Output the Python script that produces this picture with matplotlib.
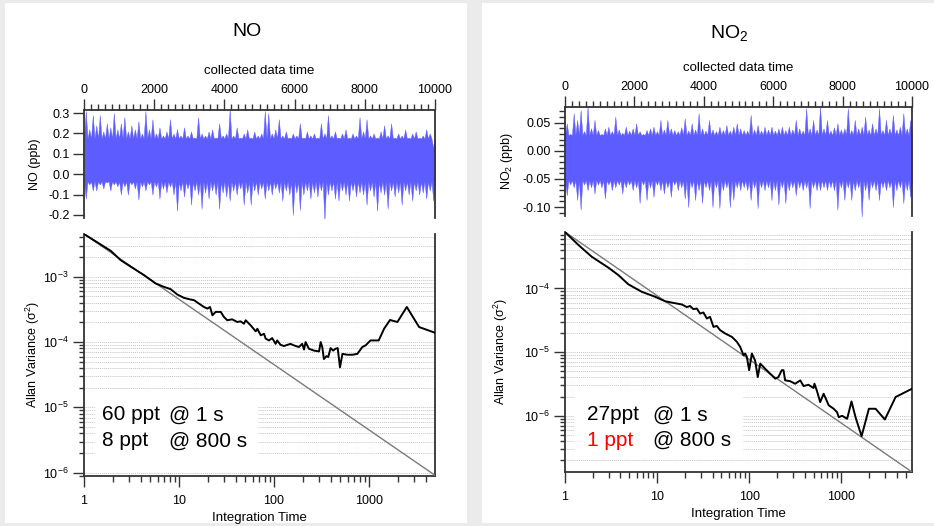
import numpy as np
import matplotlib
matplotlib.use('Agg')
import matplotlib.pyplot as plt
from matplotlib.patches import Rectangle
from matplotlib.ticker import MultipleLocator, LogLocator, NullFormatter, FormatStrFormatter

plt.rcParams['font.family'] = ['Liberation Sans', 'DejaVu Sans']
plt.rcParams['axes.unicode_minus'] = False
plt.rcParams['mathtext.fontset'] = 'custom'
plt.rcParams['mathtext.rm'] = 'Liberation Sans'
plt.rcParams['mathtext.it'] = 'Liberation Sans:italic'
plt.rcParams['mathtext.default'] = 'regular'

# ---- time series envelopes (100 s bins) ----
bin_t = np.arange(50, 10000, 100)
no_hi = [0.31, 0.22, 0.29, 0.24, 0.29, 0.21, 0.25, 0.23, 0.30, 0.22,
         0.25, 0.28, 0.21, 0.24, 0.22, 0.26, 0.20, 0.31, 0.22, 0.27,
         0.20, 0.23, 0.19, 0.21, 0.27, 0.20, 0.22, 0.19, 0.23, 0.19,
         0.21, 0.18, 0.28, 0.20, 0.19, 0.21, 0.22, 0.18, 0.25, 0.19,
         0.20, 0.32, 0.19, 0.23, 0.18, 0.20, 0.22, 0.18, 0.21, 0.19,
         0.20, 0.31, 0.30, 0.20, 0.22, 0.27, 0.19, 0.21, 0.18, 0.20,
         0.19, 0.25, 0.18, 0.21, 0.19, 0.20, 0.18, 0.25, 0.20, 0.29,
         0.19, 0.21, 0.18, 0.20, 0.22, 0.18, 0.20, 0.19, 0.28, 0.21,
         0.27, 0.19, 0.20, 0.18, 0.21, 0.24, 0.19, 0.25, 0.18, 0.20,
         0.19, 0.22, 0.18, 0.20, 0.21, 0.18, 0.19, 0.22, 0.20, 0.13]
no_lo = [-0.12, -0.05, -0.08, -0.08, -0.05, -0.07, -0.04, -0.08, -0.05, -0.06,
         -0.10, -0.06, -0.10, -0.05, -0.07, -0.125, -0.06, -0.08, -0.05, -0.10,
         -0.06, -0.12, -0.07, -0.09, -0.06, -0.10, -0.18, -0.08, -0.11, -0.07,
         -0.15, -0.08, -0.10, -0.17, -0.09, -0.12, -0.08, -0.10, -0.17, -0.09,
         -0.11, -0.13, -0.08, -0.10, -0.07, -0.15, -0.09, -0.15, -0.08, -0.10,
         -0.07, -0.12, -0.08, -0.10, -0.07, -0.09, -0.13, -0.08, -0.10, -0.20,
         -0.09, -0.175, -0.10, -0.08, -0.12, -0.09, -0.11, -0.08, -0.23, -0.10,
         -0.08, -0.12, -0.13, -0.08, -0.10, -0.13, -0.08, -0.11, -0.09, -0.10,
         -0.15, -0.08, -0.11, -0.18, -0.09, -0.10, -0.17, -0.08, -0.11, -0.09,
         -0.15, -0.08, -0.10, -0.13, -0.08, -0.10, -0.09, -0.12, -0.08, -0.13]
no2_hi = [0.049, 0.030, 0.067, 0.055, 0.073, 0.035, 0.079, 0.040, 0.055, 0.037,
          0.030, 0.040, 0.043, 0.035, 0.061, 0.038, 0.032, 0.043, 0.036, 0.040,
          0.049, 0.035, 0.030, 0.037, 0.040, 0.043, 0.035, 0.055, 0.038, 0.055,
          0.040, 0.037, 0.035, 0.042, 0.058, 0.036, 0.049, 0.038, 0.067, 0.040,
          0.036, 0.055, 0.038, 0.035, 0.043, 0.037, 0.046, 0.036, 0.043, 0.049,
          0.040, 0.037, 0.036, 0.064, 0.038, 0.046, 0.036, 0.043, 0.038, 0.043,
          0.036, 0.040, 0.043, 0.037, 0.043, 0.038, 0.055, 0.040, 0.036, 0.076,
          0.040, 0.055, 0.038, 0.079, 0.040, 0.055, 0.036, 0.042, 0.049, 0.038,
          0.040, 0.076, 0.037, 0.055, 0.040, 0.043, 0.061, 0.038, 0.049, 0.040,
          0.076, 0.037, 0.055, 0.040, 0.064, 0.038, 0.043, 0.067, 0.040, 0.055]
no2_lo = [-0.079, -0.060, -0.065, -0.0875, -0.105, -0.060, -0.070, -0.065, -0.076, -0.060,
          -0.065, -0.085, -0.060, -0.070, -0.065, -0.060, -0.076, -0.065, -0.060, -0.070,
          -0.065, -0.093, -0.060, -0.0875, -0.065, -0.082, -0.060, -0.070, -0.076, -0.065,
          -0.082, -0.060, -0.070, -0.065, -0.085, -0.100, -0.065, -0.0875, -0.070, -0.093,
          -0.065, -0.070, -0.100, -0.065, -0.102, -0.070, -0.065, -0.100, -0.0875, -0.065,
          -0.070, -0.065, -0.070, -0.0875, -0.065, -0.102, -0.065, -0.070, -0.065, -0.0875,
          -0.070, -0.096, -0.065, -0.093, -0.070, -0.065, -0.079, -0.065, -0.070, -0.065,
          -0.102, -0.065, -0.070, -0.070, -0.065, -0.070, -0.065, -0.070, -0.105, -0.065,
          -0.0875, -0.065, -0.0875, -0.070, -0.065, -0.117, -0.070, -0.0875, -0.065, -0.070,
          -0.0875, -0.065, -0.070, -0.065, -0.100, -0.070, -0.065, -0.093, -0.070, -0.082]
# edges of the dense solid core of each trace (lo, hi)
no_core = (-0.035, 0.175)
no2_core = (-0.052, 0.028)

# ---- Allan variance ----
no_tau = [1, 1.91, 2.43, 3.10, 4.28, 5.68, 6.96, 8.17, 9.6, 11.3, 13.3, 14.4, 16.2, 18.3, 19.9,
          21.2, 22.5, 24.3, 27.5, 29.7, 32.2, 36.3, 41.1, 44.5, 48.3, 50.3, 56.9, 64.2, 66.8, 72.5,
          78.5, 81.7, 88.5, 95.8, 104, 108, 117, 127, 149, 162, 183, 198, 207, 215, 233,
          264, 298, 310, 322, 335, 357, 372, 394, 419, 443, 468, 495, 525, 591, 668,
          754, 850, 921, 1036, 1265, 1441, 1664, 1990, 2499, 3366, 4950]
no_var = [4.52e-3, 2.5e-3, 1.8e-3, 1.43e-3, 1.06e-3, 7.9e-4, 7.0e-4, 6.46e-4, 5.35e-4, 4.75e-4,
          4.48e-4, 4.38e-4, 3.89e-4, 3.45e-4, 3.26e-4, 3.45e-4, 2.57e-4, 2.9e-4, 2.9e-4, 2.43e-4,
          2.16e-4, 2.23e-4, 2.03e-4, 2.08e-4, 1.91e-4, 2.16e-4, 1.80e-4, 1.46e-4, 1.60e-4, 1.27e-4,
          1.34e-4, 1.13e-4, 1.06e-4, 1.15e-4, 9.4e-5, 1.06e-4, 9.1e-5, 8.7e-5, 9.4e-5, 8.9e-5,
          8.4e-5, 9.4e-5, 7.7e-5, 1.0e-4, 7.9e-5, 7.4e-5, 7.2e-5, 1.0e-4, 8.4e-5, 5.5e-5,
          6.1e-5, 5.9e-5, 8.1e-5, 7.4e-5, 7.9e-5, 8.1e-5, 4.1e-5, 6.6e-5, 6.4e-5, 6.4e-5,
          6.6e-5, 8.4e-5, 8.9e-5, 1.06e-4, 1.06e-4, 1.6e-4, 2.18e-4, 2.03e-4, 3.45e-4, 1.7e-4, 1.39e-4]
no2_tau = [1, 1.40, 1.95, 2.96, 3.80, 4.88, 6.82, 9.53, 12.2, 14.4, 18.6, 21.0, 22.8, 24.8, 27.0,
           29.3, 31.9, 34.7, 37.6, 41.0, 44.5, 48.4, 55.0, 65.1, 73.6, 80.1, 86.9, 90.6, 94.4, 100,
           107, 116, 124, 132, 149, 169, 192, 208, 226, 236, 246, 278, 316, 359, 390,
           441, 500, 512, 543, 591, 644, 732, 828, 901, 940, 1022, 1159, 1293, 1430, 1664,
           1997, 2360, 2979, 3892, 5870]
no2_var = [7.7e-4, 4.81e-4, 3.15e-4, 2.12e-4, 1.62e-4, 1.16e-4, 8.86e-5, 7.4e-5, 6.3e-5, 6.0e-5,
           5.6e-5, 5.1e-5, 5.3e-5, 4.73e-5, 4.84e-5, 4.04e-5, 4.19e-5, 3.37e-5, 3.58e-5, 2.49e-5,
           2.58e-5, 2.21e-5, 1.96e-5, 1.73e-5, 1.45e-5, 1.2e-5, 8.9e-6, 9.5e-6, 8.4e-6, 5.2e-6,
           9.5e-6, 7.4e-6, 4.06e-6, 6.6e-6, 5.5e-6, 4.58e-6, 3.83e-6, 4.06e-6, 5.2e-6, 5.2e-6,
           3.6e-6, 3.5e-6, 3.19e-6, 3.6e-6, 2.93e-6, 3.07e-6, 2.73e-6, 3.19e-6, 2.5e-6, 1.64e-6,
           2.22e-6, 1.46e-6, 1.29e-6, 1.14e-6, 9.5e-7, 1.0e-6, 8.97e-7, 1.68e-6, 9.5e-7, 4.78e-7,
           1.29e-6, 1.29e-6, 8.75e-7, 1.97e-6, 2.66e-6]
# white-noise reference lines (slope -1)
no_ref_tau, no_ref_var = [1, 4950], [4.52e-3, 9.13e-7]
no2_ref_tau, no2_ref_var = [1, 5870], [7.7e-4, 1.31e-7]

W, H = 934, 526
BLUE = '#5c5cff'
SPINE = '#333333'


def box(x0, y0, x1, y1):
    return [x0 / W, 1 - y1 / H, (x1 - x0) / W, (y1 - y0) / H]


def spikes(hi, lo, core):
    # each bin becomes a narrow spike rising out of the solid core
    n = len(hi)
    x = np.empty(2 * n + 1)
    top = np.empty(2 * n + 1)
    bot = np.empty(2 * n + 1)
    x[0::2] = np.arange(0, 10001, 100)
    x[1::2] = bin_t
    top[0::2] = core[1]
    bot[0::2] = core[0]
    top[1::2] = hi
    bot[1::2] = lo
    return x, bot, top


def style_spines(ax, hide):
    for s in ax.spines.values():
        s.set_color(SPINE)
        s.set_linewidth(1.3)
    ax.spines[hide].set_visible(False)


def top_panel(ax, hi, lo, core, ylim, yticks, fmt, ylabel, yminor=None):
    x, bot, top = spikes(hi, lo, core)
    ax.fill_between(x, bot, top, color=BLUE, lw=0.3, edgecolor=BLUE)
    ax.set_xlim(0, 10000)
    ax.set_ylim(*ylim)
    ax.xaxis.tick_top()
    ax.xaxis.set_label_position('top')
    ax.set_xticks(range(0, 10001, 2000))
    ax.xaxis.set_minor_locator(MultipleLocator(200))
    ax.set_yticks(yticks)
    ax.yaxis.set_major_formatter(FormatStrFormatter(fmt))
    if yminor:
        ax.yaxis.set_minor_locator(MultipleLocator(yminor))
    ax.tick_params(which='both', direction='out', color=SPINE, width=1, labelsize=9, pad=2)
    ax.tick_params(which='major', length=8)
    ax.tick_params(which='minor', length=4.5)
    ax.tick_params(axis='y', right=False, which='both')
    ax.set_xlabel('collected data time', fontsize=9.5, labelpad=7)
    ax.set_ylabel(ylabel, fontsize=9)
    style_spines(ax, 'bottom')


def allan_panel(ax, tau, var, rtau, rvar, xmax, ylim):
    ax.set_xscale('log')
    ax.set_yscale('log')
    ax.plot(rtau, rvar, color='#7a7a7a', lw=1.0, zorder=3)
    ax.plot(tau, var, color='black', lw=1.4, zorder=4)
    ax.set_xlim(1, xmax)
    ax.set_ylim(*ylim)
    ax.set_xticks([1, 10, 100, 1000])
    ax.set_xticklabels(['1', '10', '100', '1000'])
    ax.xaxis.set_minor_locator(LogLocator(base=10, subs=np.arange(2, 10)))
    ax.xaxis.set_minor_formatter(NullFormatter())
    ax.yaxis.set_major_locator(LogLocator(base=10))
    ax.yaxis.set_minor_locator(LogLocator(base=10, subs=np.arange(2, 10)))
    ax.yaxis.set_minor_formatter(NullFormatter())
    ax.grid(True, which='both', axis='y', color='#c4c4c4', lw=0.7, ls=(0, (1, 1)))
    ax.tick_params(which='both', direction='out', color=SPINE, width=1, labelsize=9, pad=3)
    ax.tick_params(axis='x', pad=6)
    ax.tick_params(which='major', length=8)
    ax.tick_params(which='minor', length=4.5)
    ax.tick_params(axis='y', which='minor', length=3.5)
    ax.tick_params(axis='y', right=False, which='both')
    ax.set_xlabel('Integration Time', fontsize=9.5, labelpad=3)
    ax.set_ylabel(r'Allan Variance ($\sigma^2$)', fontsize=9)
    style_spines(ax, 'top')


def note(ax, x0, y0, x1, y1):
    # white label area given in figure pixels
    inv = ax.transAxes.inverted()
    (ax0, ay0) = inv.transform(fig.transFigure.transform((x0 / W, 1 - y1 / H)))
    (ax1, ay1) = inv.transform(fig.transFigure.transform((x1 / W, 1 - y0 / H)))
    ax.add_patch(Rectangle((ax0, ay0), ax1 - ax0, ay1 - ay0, transform=ax.transAxes,
                           facecolor='white', edgecolor='none', zorder=2))


fig = plt.figure(figsize=(W / 100, H / 100), dpi=100, facecolor='#ebebeb')
fig.patches.append(Rectangle((5 / W, 1 - 523 / H), 462 / W, 520 / H, transform=fig.transFigure,
                             facecolor='white', edgecolor='none', zorder=-5))
fig.patches.append(Rectangle((482 / W, 1 - 523 / H), 452 / W, 520 / H, transform=fig.transFigure,
                             facecolor='white', edgecolor='none', zorder=-5))

fig.text(247 / W, 1 - 32 / H, 'NO', ha='center', va='center', fontsize=14)
fig.text(729 / W, 1 - 33 / H, r'NO$_2$', ha='center', va='center', fontsize=14)

ax1 = fig.add_axes(box(84, 110, 435, 218))
top_panel(ax1, no_hi, no_lo, no_core, (-0.215, 0.315),
          [-0.2, -0.1, 0.0, 0.1, 0.2, 0.3], '%.1f', 'NO (ppb)')
ax1.yaxis.set_label_coords(-0.123, 0.5)

ax2 = fig.add_axes(box(84, 234, 435, 476))
allan_panel(ax2, no_tau, no_var, no_ref_tau, no_ref_var, 4950, (8.9e-7, 4.52e-3))
ax2.yaxis.set_label_coords(-0.12, 0.5)

ax3 = fig.add_axes(box(565, 107, 912, 216))
top_panel(ax3, no2_hi, no2_lo, no2_core, (-0.116, 0.078),
          [-0.10, -0.05, 0.0, 0.05], '%.2f', r'NO$_2$ (ppb)', yminor=0.01)
ax3.yaxis.set_label_coords(-0.144, 0.5)

ax4 = fig.add_axes(box(565, 232, 912, 472))
allan_panel(ax4, no2_tau, no2_var, no2_ref_tau, no2_ref_var, 5870, (1.31e-7, 7.7e-4))
ax4.yaxis.set_label_coords(-0.158, 0.5)

note(ax2, 95, 398, 258, 457)
note(ax4, 575, 395, 743, 458)

big = 15
fig.text(102 / W, 1 - 415 / H, '60 ppt', fontsize=big, va='center')
fig.text(169 / W, 1 - 415 / H, '@ 1 s', fontsize=big, va='center')
fig.text(102 / W, 1 - 441 / H, '8 ppt', fontsize=big, va='center')
fig.text(169 / W, 1 - 441 / H, '@ 800 s', fontsize=big, va='center')
fig.text(587 / W, 1 - 415 / H, '27ppt', fontsize=big, va='center')
fig.text(653 / W, 1 - 415 / H, '@ 1 s', fontsize=big, va='center')
fig.text(587 / W, 1 - 440 / H, '1 ppt', fontsize=big, va='center', color='red')
fig.text(653 / W, 1 - 440 / H, '@ 800 s', fontsize=big, va='center')

fig.savefig('out.png', dpi=100, facecolor=fig.get_facecolor())
